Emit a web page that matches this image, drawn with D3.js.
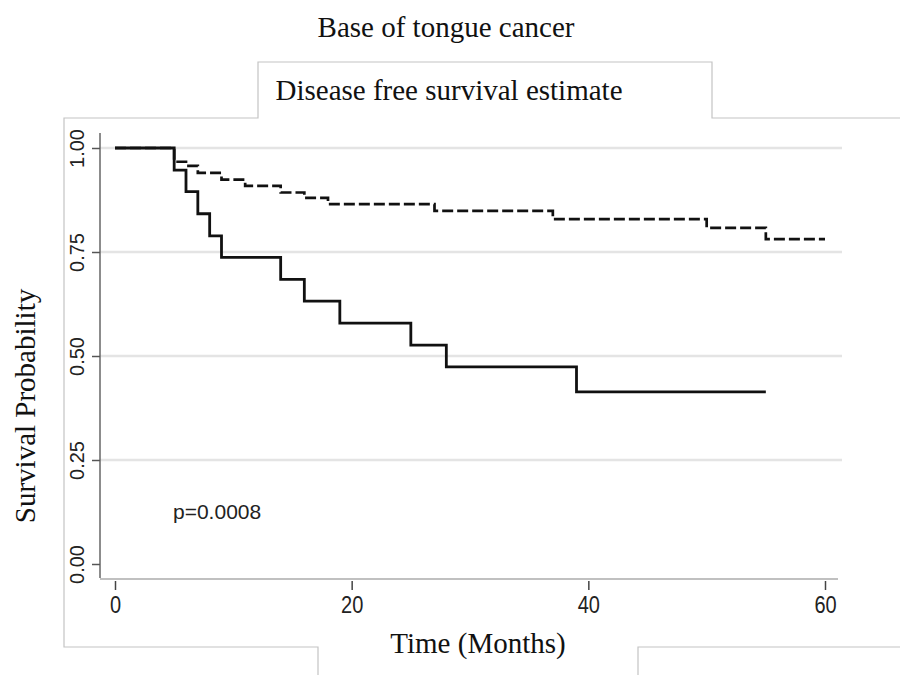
<!DOCTYPE html>
<html>
<head>
<meta charset="utf-8">
<script src="https://cdn.jsdelivr.net/npm/d3@7"></script>
<style>
  body { margin: 0; background: #fff; }
  svg { display: block; }
</style>
</head>
<body>
<div id="chart"></div>
<script>
// Kaplan-Meier steps (time in months, survival probability)
const solidTimes  = [0, 5, 6, 7, 8, 9, 14, 16, 19, 25, 28, 39, 55];
const solidValues = [1.00, 0.947, 0.895, 0.842, 0.789, 0.737, 0.684, 0.632, 0.579, 0.526, 0.474, 0.414, 0.414];

const dashTimes  = [0, 5, 6, 7, 9, 11, 14, 16, 18, 27, 37, 50, 55, 60];
const dashValues = [1.00, 0.967, 0.957, 0.940, 0.924, 0.909, 0.893, 0.880, 0.865, 0.849, 0.829, 0.808, 0.781, 0.781];

const xTicks = [0, 20, 40, 60];
const yTicks = [0, 0.25, 0.5, 0.75, 1];
const gridValues = [0.25, 0.5, 0.75, 1];

const W = 900, H = 675;

const svg = d3.select("#chart")
    .append("svg")
    .attr("width", W)
    .attr("height", H);

const x = d3.scaleLinear().domain([0, 60]).range([115, 825]);
const y = d3.scaleLinear().domain([0, 1]).range([564, 148]);

// outer frame with the tab for the subtitle
const frame = "M900,118 L712,118 L712,62 L258,62 L258,118 L64,118 L64,647 L318,647 L318,675 "
    + "M638,675 L638,647 L900,647";
svg.append("path")
    .attr("d", frame)
    .attr("fill", "none")
    .attr("stroke", "#c4c4c4")
    .attr("stroke-width", 1.2);

// titles
svg.append("text")
    .attr("x", 446).attr("y", 37)
    .attr("text-anchor", "middle")
    .attr("font-family", "Liberation Serif, Times New Roman, serif")
    .attr("font-size", 29)
    .attr("fill", "#111")
    .text("Base of tongue cancer");

svg.append("text")
    .attr("x", 449).attr("y", 100)
    .attr("text-anchor", "middle")
    .attr("font-family", "Liberation Serif, Times New Roman, serif")
    .attr("font-size", 29)
    .attr("fill", "#111")
    .text("Disease free survival estimate");

// grid lines
svg.append("g")
    .selectAll("line")
    .data(gridValues)
    .enter()
    .append("line")
    .attr("x1", 100).attr("x2", 842)
    .attr("y1", d => y(d)).attr("y2", d => y(d))
    .attr("stroke", "#e4e4e4")
    .attr("stroke-width", 2.5);

// y axis
svg.append("line")
    .attr("x1", 100).attr("x2", 100)
    .attr("y1", 133).attr("y2", 578)
    .attr("stroke", "#666")
    .attr("stroke-width", 1.5);

const yAxis = svg.append("g")
    .attr("transform", "translate(100,0)")
    .call(d3.axisLeft(y).tickValues(yTicks).tickSize(8).tickFormat(d3.format(".2f")));
yAxis.select(".domain").remove();
yAxis.selectAll(".tick line").attr("stroke", "#555").attr("stroke-width", 1.5);
yAxis.selectAll(".tick text")
    .attr("x", null).attr("dy", null)
    .attr("transform", "translate(-16,0) rotate(-90)")
    .attr("text-anchor", "middle")
    .attr("font-family", "Liberation Sans, Arial, sans-serif")
    .attr("font-size", 20)
    .attr("fill", "#222");

// x axis
svg.append("line")
    .attr("x1", 100).attr("x2", 838)
    .attr("y1", 579).attr("y2", 579)
    .attr("stroke", "#c0c0c0")
    .attr("stroke-width", 2);

const xAxis = svg.append("g")
    .attr("transform", "translate(0,581)")
    .call(d3.axisBottom(x).tickValues(xTicks).tickSize(9));
xAxis.select(".domain").remove();
xAxis.selectAll(".tick line").attr("stroke", "#444").attr("stroke-width", 1.5);
xAxis.selectAll(".tick text")
    .attr("y", null).attr("dy", null)
    .attr("transform", "translate(0,32) scale(1,1.15)")
    .attr("font-family", "Liberation Sans, Arial, sans-serif")
    .attr("font-size", 20)
    .attr("fill", "#222");

// axis titles
svg.append("text")
    .attr("x", 478).attr("y", 653)
    .attr("text-anchor", "middle")
    .attr("font-family", "Liberation Serif, Times New Roman, serif")
    .attr("font-size", 29)
    .attr("fill", "#111")
    .text("Time (Months)");

svg.append("text")
    .attr("transform", "translate(35,406) rotate(-90)")
    .attr("text-anchor", "middle")
    .attr("font-family", "Liberation Serif, Times New Roman, serif")
    .attr("font-size", 29)
    .attr("fill", "#111")
    .text("Survival Probability");

// survival curves
const step = d3.line()
    .x(d => x(d[0]))
    .y(d => y(d[1]))
    .curve(d3.curveStepAfter);

svg.append("path")
    .datum(dashTimes.map((t, i) => [t, dashValues[i]]))
    .attr("d", step)
    .attr("fill", "none")
    .attr("stroke", "#111")
    .attr("stroke-width", 2.7)
    .attr("stroke-dasharray", "11,4");

svg.append("path")
    .datum(solidTimes.map((t, i) => [t, solidValues[i]]))
    .attr("d", step)
    .attr("fill", "none")
    .attr("stroke", "#111")
    .attr("stroke-width", 2.8);

// p-value
svg.append("text")
    .attr("x", 173).attr("y", 519)
    .attr("font-family", "Liberation Sans, Arial, sans-serif")
    .attr("font-size", 21)
    .attr("fill", "#222")
    .text("p=0.0008");
</script>
</body>
</html>
